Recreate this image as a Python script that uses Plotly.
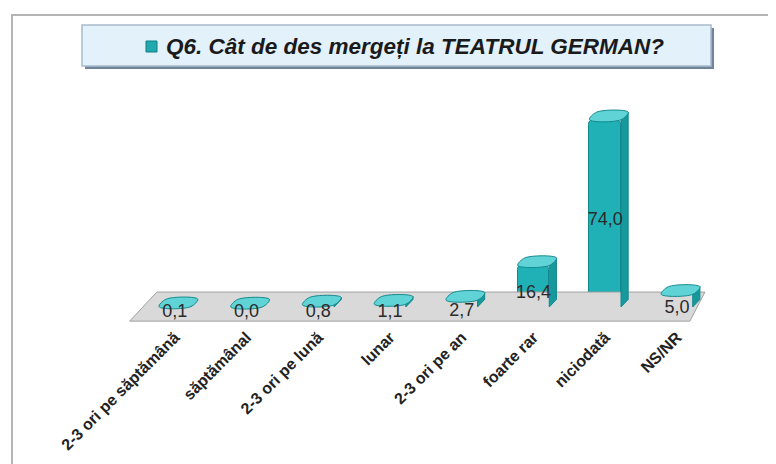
import plotly.graph_objects as go

categories = ["2-3 ori pe săptămână", "săptămânal", "2-3 ori pe lună", "lunar",
              "2-3 ori pe an", "foarte rar", "niciodată", "NS/NR"]
values = [0.1, 0.0, 0.8, 1.1, 2.7, 16.4, 74.0, 5.0]
labels = ["0,1", "0,0", "0,8", "1,1", "2,7", "16,4", "74,0", "5,0"]
title_text = "Q6. Cât de des mergeți la TEATRUL GERMAN?"

OFF = 8  # page body margin offset
W, H = 768, 456
ML, MR, MT, MB = 113, 56, 92, 134
PW, PH = W - ML - MR, H - MT - MB

def px(x):
    return (x - OFF - ML) / PW

def py(y):
    return (H - MB - (y - OFF)) / PH

FRONT = "#1fb1b5"
EDGE = "#14898d"
TOP = "#5fd3d6"
SIDE = "#16989c"

half = 0.22
dx, dy = 0.1, 3.0

fig = go.Figure()

# floor (perspective plane)
fig.add_trace(go.Scatter(
    x=[-0.63, -0.25, 7.39, 7.18, -0.63],
    y=[-5.6, 5.9, 5.9, -5.6, -5.6],
    mode="lines", fill="toself", fillcolor="#d9d9d9",
    line=dict(color="#a0a0a0", width=1), hoverinfo="skip", showlegend=False))

xs = list(range(len(categories)))

# side faces
for i, v in zip(xs, values):
    fig.add_trace(go.Scatter(
        x=[i + half, i + half + dx, i + half + dx, i + half, i + half],
        y=[0, dy, v + dy, v, 0],
        mode="lines", fill="toself", fillcolor=SIDE,
        line=dict(color=EDGE, width=1), hoverinfo="skip", showlegend=False))

# front faces
fig.add_trace(go.Bar(
    x=xs, y=values, width=2 * half,
    marker=dict(color=FRONT, line=dict(color=EDGE, width=1), cornerradius=5),
    hoverinfo="skip", showlegend=False))

# top faces
for i, v in zip(xs, values):
    fig.add_trace(go.Scatter(
        x=[i - half, i + half, i + half + dx, i - half + dx, i - half],
        y=[v, v, v + dy, v + dy, v],
        mode="lines", fill="toself", fillcolor=TOP,
        line=dict(color=EDGE, width=1, shape="spline"), hoverinfo="skip", showlegend=False))

# value labels
label_y = [max(v / 2 - 3, -2.0) for v in values]
fig.add_trace(go.Scatter(
    x=xs, y=label_y, mode="text", text=labels,
    textfont=dict(family="Liberation Sans", size=18, color="#2b2b2b"),
    hoverinfo="skip", showlegend=False))

shapes = [
    # outer border
    dict(type="rect", xref="paper", yref="paper",
         x0=px(12), x1=px(773), y0=py(480), y1=py(15),
         line=dict(color="#b4b4b4", width=2), fillcolor="rgba(0,0,0,0)", layer="below"),
    # title box shadow
    dict(type="rect", xref="paper", yref="paper",
         x0=px(85), x1=px(714), y0=py(69), y1=py(28),
         line=dict(width=0), fillcolor="#71859a", layer="below"),
    # title box
    dict(type="rect", xref="paper", yref="paper",
         x0=px(82), x1=px(711), y0=py(66), y1=py(25),
         line=dict(color="#a9bccd", width=1.5), fillcolor="#e2f1fa", layer="below"),
    # legend square
    dict(type="rect", xref="paper", yref="paper",
         x0=px(146), x1=px(157), y0=py(52), y1=py(41),
         line=dict(color="#0f7f84", width=1), fillcolor="#22a9b0"),
]

fig.update_layout(
    width=W, height=H,
    margin=dict(l=ML, r=MR, t=MT, b=MB, autoexpand=False),
    paper_bgcolor="white", plot_bgcolor="white",
    shapes=shapes,
    annotations=[dict(
        xref="paper", yref="paper", x=px(164), y=py(46),
        text="<b><i>" + title_text + "</i></b>", showarrow=False,
        xanchor="left", yanchor="middle",
        font=dict(family="Liberation Sans", size=22.5, color="#1a1a1a"))],
    xaxis=dict(range=[-0.75, 7.6], tickvals=xs, ticktext=["<b>" + c + "</b>" for c in categories],
               tickangle=-45, showgrid=False, zeroline=False, showline=False, automargin=False,
               ticks="", ticklabelstandoff=-6,
               tickfont=dict(family="Liberation Sans", size=16, color="#222222"),
               fixedrange=True),
    yaxis=dict(range=[-9.1, 81.8], visible=False, showgrid=False, zeroline=False,
               automargin=False, fixedrange=True),
    bargap=0,
)

fig.write_html("out.html")
